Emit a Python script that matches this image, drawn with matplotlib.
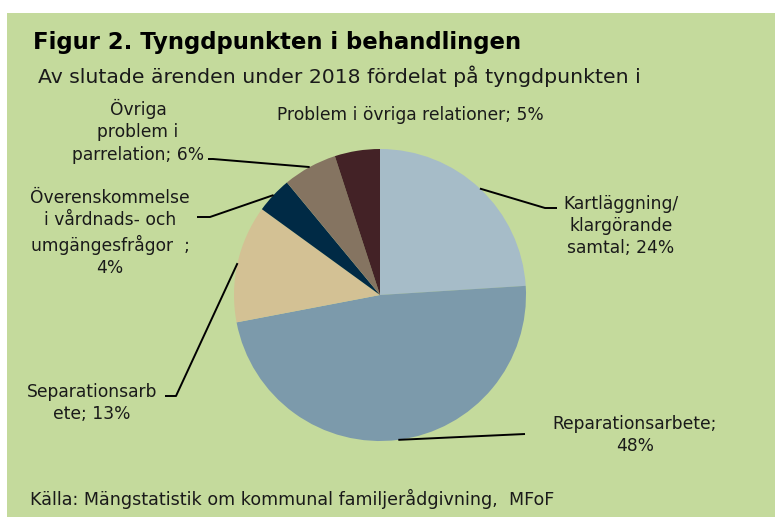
import matplotlib
matplotlib.use("Agg")
import matplotlib.pyplot as plt
from matplotlib.patches import Rectangle
import numpy as np

categories = ["Kartläggning/\nklargörande\nsamtal", "Reparationsarbete", "Separationsarb\nete",
              "Överenskommelse\ni vårdnads- och\numgängesfrågor  ", "Övriga\nproblem i\nparrelation",
              "Problem i övriga relationer"]
values = [24, 48, 13, 4, 6, 5]
separators = ["; ", ";\n", "; ", ";\n", "; ", "; "]
colors = ["#a6bcc8", "#7c9aab", "#d3c194", "#002a45", "#857461", "#432226"]

title = "Figur 2. Tyngdpunkten i behandlingen"
subtitle = "Av slutade ärenden under 2018 fördelat på tyngdpunkten i"
source = "Källa: Mängstatistik om kommunal familjerådgivning,  MFoF"

W, H = 775, 517
fig = plt.figure(figsize=(W/100, H/100), dpi=100)
fig.patch.set_facecolor("white")
fig.add_artist(Rectangle((7/W, 0), 1 - 7/W, (H - 13)/H, transform=fig.transFigure,
                         facecolor="#c4da9c", edgecolor="none", zorder=0))

FONT = "DejaVu Sans"
txtc = "#1a1a1a"

cx, cy, R = 380, 295, 146
ax = fig.add_axes([(cx - R)/W, (H - cy - R)/H, 2*R/W, 2*R/H])
ax.set_xlim(-1, 1); ax.set_ylim(-1, 1); ax.set_aspect("equal"); ax.axis("off")
wedges, _ = ax.pie(values, colors=colors, startangle=90, counterclock=False,
                   radius=1, wedgeprops=dict(linewidth=0))
ax.set_xlim(-1, 1); ax.set_ylim(-1, 1)

def d(px, py):
    return ((px - cx)/R, (cy - py)/R)

# label centers (pixel layout) and leader knees
label_pos = [(621, 226), (635, 435), (92, 403), (110, 233), (138, 131), (410, 115)]
leaders = [
    [(545, 208), (557, 208)],
    [(525, 434)],
    [(176, 396), (165, 396)],
    [(210, 217), (197, 217)],
    [(213, 159), (208, 159)],
    None,
]

for w, cat, sep, v, pos, lead in zip(wedges, categories, separators, values, label_pos, leaders):
    lab = f"{cat}{sep}{v}%"
    ang = np.deg2rad((w.theta1 + w.theta2)/2)
    ax_, ay_ = np.cos(ang), np.sin(ang)
    x, y = d(*pos)
    ax.text(x, y, lab, ha="center", va="center", fontsize=12.3, color=txtc,
            family=FONT, linespacing=1.32, clip_on=False)
    if lead:
        pts = [(ax_, ay_)] + [d(*p) for p in lead]
        xs, ys = zip(*pts)
        ax.plot(xs, ys, color="black", lw=1.4, clip_on=False, solid_capstyle="butt")

fig.text(33/W, 1 - 42/H, title, fontsize=16.4, fontweight="bold", family=FONT,
         color="black", va="center", ha="left")
fig.text(38/W, 1 - 76/H, subtitle, fontsize=14.7, family=FONT, color=txtc,
         va="center", ha="left")
fig.text(30/W, 1 - 499/H, source, fontsize=12.6, family=FONT, color=txtc,
         va="center", ha="left")

fig.savefig("out.png", dpi=100, facecolor=fig.get_facecolor())
